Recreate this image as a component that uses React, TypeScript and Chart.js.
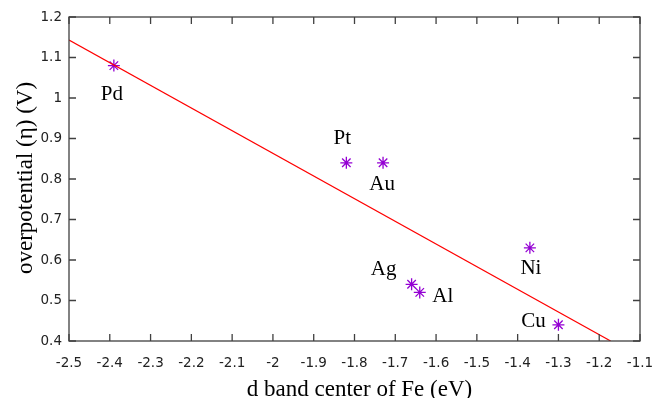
import React, { useEffect, useRef } from 'react';
import { Chart, registerables } from 'chart.js';

Chart.register(...registerables);

const metals = ['Pd', 'Pt', 'Au', 'Ni', 'Ag', 'Al', 'Cu'];
const dBandCenter = [-2.39, -1.82, -1.73, -1.37, -1.66, -1.64, -1.3];
const overpotential = [1.08, 0.84, 0.84, 0.63, 0.54, 0.52, 0.44];
const fitX = [-2.5, -1.172];
const fitY = [1.143, 0.4];
const xTicks = [-2.5, -2.4, -2.3, -2.2, -2.1, -2, -1.9, -1.8, -1.7, -1.6, -1.5, -1.4, -1.3, -1.2, -1.1];
const yTicks = [0.4, 0.5, 0.6, 0.7, 0.8, 0.9, 1, 1.1, 1.2];
const xTitle = 'd band center of Fe (eV)';
const yTitle = 'overpotential (η) (V)';

const labelOffsets: Record<string, [number, number]> = {
  Pd: [-2, 29],
  Pt: [-4, -24],
  Au: [-1, 22],
  Ni: [1, 21],
  Ag: [-28, -15],
  Al: [23, 4],
  Cu: [-25, -3],
};

const fmt = (v: number) => String(Math.round(v * 10) / 10);

export default function App() {
  const ref = useRef<HTMLCanvasElement>(null);
  useEffect(() => {
    document.body.style.margin = '0';
    const canvas = ref.current!;

    const framePlugin = {
      id: 'frame',
      afterDatasetsDraw(chart: any) {
        const { ctx, chartArea: a, scales } = chart;
        const xs = scales.x;
        const ys = scales.y;
        ctx.save();
        ctx.strokeStyle = '#404040';
        ctx.lineWidth = 1.3;
        ctx.strokeRect(a.left, a.top, a.right - a.left, a.bottom - a.top);
        const tl = 7;
        ctx.beginPath();
        xTicks.forEach((v) => {
          const px = xs.getPixelForValue(v);
          ctx.moveTo(px, a.bottom);
          ctx.lineTo(px, a.bottom - tl);
          ctx.moveTo(px, a.top);
          ctx.lineTo(px, a.top + tl);
        });
        yTicks.forEach((v) => {
          const py = ys.getPixelForValue(v);
          ctx.moveTo(a.left, py);
          ctx.lineTo(a.left + tl, py);
          ctx.moveTo(a.right, py);
          ctx.lineTo(a.right - tl, py);
        });
        ctx.stroke();

        ctx.fillStyle = '#000';
        ctx.font = '21px "Liberation Serif"';
        ctx.textAlign = 'center';
        ctx.textBaseline = 'middle';
        metals.forEach((m, i) => {
          const px = xs.getPixelForValue(dBandCenter[i]);
          const py = ys.getPixelForValue(overpotential[i]);
          const [dx, dy] = labelOffsets[m];
          ctx.fillText(m, px + dx, py + dy);
        });

        ctx.font = '23px "Liberation Serif"';
        ctx.textBaseline = 'alphabetic';
        ctx.fillText(xTitle, (a.left + a.right) / 2 + 5, 396);
        ctx.save();
        ctx.translate(32, (a.top + a.bottom) / 2 - 1);
        ctx.rotate(-Math.PI / 2);
        ctx.fillText(yTitle, 0, 0);
        ctx.restore();
        ctx.restore();
      },
    };

    const chart = new Chart(canvas, {
      type: 'scatter',
      data: {
        datasets: [
          {
            type: 'line',
            data: fitX.map((x, i) => ({ x, y: fitY[i] })),
            borderColor: '#ff0000',
            borderWidth: 1.2,
            pointRadius: 0,
            fill: false,
          } as any,
          {
            data: dBandCenter.map((x, i) => ({ x, y: overpotential[i] })),
            pointStyle: 'star',
            pointRadius: 6,
            borderColor: '#9400d3',
            backgroundColor: '#9400d3',
            borderWidth: 1.3,
          },
        ],
      },
      options: {
        responsive: false,
        animation: false,
        layout: { padding: { top: 17, right: 14, left: 0, bottom: 0 } },
        plugins: { legend: { display: false }, tooltip: { enabled: false } },
        scales: {
          x: {
            type: 'linear',
            min: -2.5,
            max: -1.1,
            afterBuildTicks: (s: any) => {
              s.ticks = xTicks.map((v) => ({ value: v }));
            },
            afterFit: (s: any) => {
              s.height = 57;
              s.paddingLeft = 0;
              s.paddingRight = 0;
            },
            grid: { display: false, drawTicks: false },
            border: { display: false },
            ticks: {
              padding: 14,
              color: '#222',
              font: { family: 'DejaVu Sans', size: 13.5 },
              callback: (v: any) => fmt(Number(v)),
              maxRotation: 0,
              autoSkip: false,
            },
          },
          y: {
            type: 'linear',
            min: 0.4,
            max: 1.2,
            afterBuildTicks: (s: any) => {
              s.ticks = yTicks.map((v) => ({ value: v }));
            },
            afterFit: (s: any) => {
              s.width = 69;
              s.paddingTop = 0;
              s.paddingBottom = 0;
            },
            grid: { display: false, drawTicks: false },
            border: { display: false },
            ticks: {
              padding: 7,
              color: '#222',
              font: { family: 'DejaVu Sans', size: 13.5 },
              callback: (v: any) => fmt(Number(v)),
              autoSkip: false,
            },
          },
        },
      },
      plugins: [framePlugin],
    });
    return () => chart.destroy();
  }, []);

  return (
    <div style={{ position: 'fixed', left: 0, top: 0, width: 654, height: 398 }}>
      <canvas ref={ref} width={654} height={398} style={{ width: 654, height: 398 }} />
    </div>
  );
}
